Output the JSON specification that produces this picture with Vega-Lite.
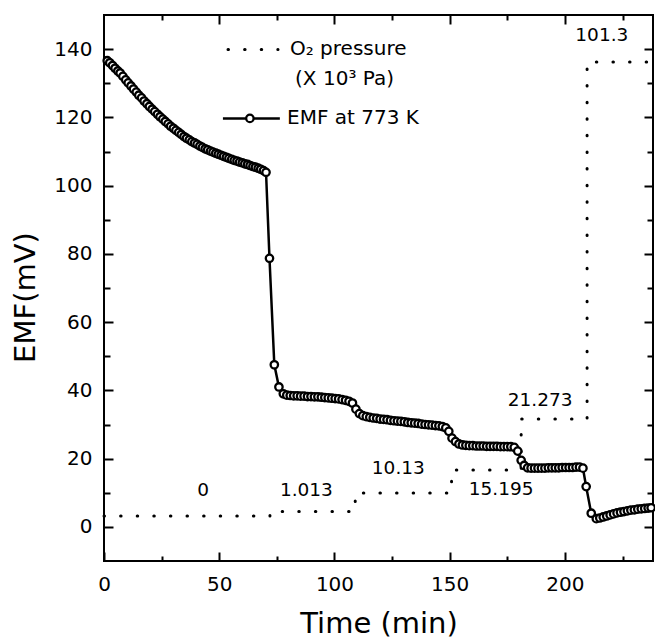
{
  "$schema": "https://vega.github.io/schema/vega-lite/v6.json",
  "width": 549,
  "height": 546,
  "autosize": "none",
  "padding": {"left": 104, "top": 15, "right": 2, "bottom": 80},
  "background": "white",
  "config": {
    "view": {"stroke": "black", "strokeWidth": 2},
    "axis": {
      "domain": false, "tickColor": "black", "tickWidth": 2,
      "labelFont": "DejaVu Sans", "labelFontSize": 20, "labelColor": "black",
      "titleFont": "DejaVu Sans", "titleFontSize": 29, "titleFontWeight": "normal", "titleColor": "black",
      "grid": false, "labelFlush": false, "labelOverlap": false
    }
  },
  "datasets": {
    "o2": [
      {"t": 0, "v": 3.2}, {"t": 72, "v": 3.2}, {"t": 72, "v": 4.5}, {"t": 109, "v": 4.5},
      {"t": 109, "v": 9.9}, {"t": 150.8, "v": 9.9}, {"t": 150.8, "v": 16.7}, {"t": 181, "v": 16.7},
      {"t": 181, "v": 31.6}, {"t": 209.6, "v": 31.6}, {"t": 209.6, "v": 136.2}, {"t": 238.2, "v": 136.2}
    ],
    "emf": [
      {"t": 1.4, "v": 136.6}, {"t": 2.5, "v": 136.0}, {"t": 3.7, "v": 135.2}, {"t": 4.8, "v": 134.4}, {"t": 6.0, "v": 133.6},
      {"t": 7.0, "v": 133.0}, {"t": 8.2, "v": 132.0}, {"t": 9.4, "v": 131.0}, {"t": 10.5, "v": 130.1}, {"t": 11.7, "v": 129.2},
      {"t": 12.8, "v": 128.3}, {"t": 14.0, "v": 127.4}, {"t": 15.1, "v": 126.5}, {"t": 16.3, "v": 125.7}, {"t": 17.4, "v": 124.8},
      {"t": 18.6, "v": 124.0}, {"t": 19.7, "v": 123.2}, {"t": 20.9, "v": 122.4}, {"t": 22.0, "v": 121.7}, {"t": 23.2, "v": 120.9},
      {"t": 24.3, "v": 120.2}, {"t": 25.5, "v": 119.5}, {"t": 26.6, "v": 118.8}, {"t": 27.8, "v": 118.1}, {"t": 28.9, "v": 117.4},
      {"t": 30.1, "v": 116.8}, {"t": 31.2, "v": 116.2}, {"t": 32.4, "v": 115.6}, {"t": 33.5, "v": 115.0}, {"t": 34.7, "v": 114.4},
      {"t": 35.8, "v": 113.9}, {"t": 37.0, "v": 113.4}, {"t": 38.1, "v": 112.9}, {"t": 39.3, "v": 112.5}, {"t": 40.4, "v": 112.1},
      {"t": 41.6, "v": 111.6}, {"t": 42.7, "v": 111.2}, {"t": 43.9, "v": 110.8}, {"t": 45.0, "v": 110.5}, {"t": 46.2, "v": 110.1},
      {"t": 47.3, "v": 109.8}, {"t": 48.5, "v": 109.5}, {"t": 49.6, "v": 109.2}, {"t": 50.8, "v": 108.9}, {"t": 51.9, "v": 108.6},
      {"t": 53.1, "v": 108.3}, {"t": 54.2, "v": 108.0}, {"t": 55.4, "v": 107.7}, {"t": 56.5, "v": 107.4}, {"t": 57.7, "v": 107.2},
      {"t": 58.8, "v": 106.9}, {"t": 60.0, "v": 106.7}, {"t": 61.1, "v": 106.4}, {"t": 62.3, "v": 106.2}, {"t": 63.4, "v": 105.9},
      {"t": 64.6, "v": 105.6}, {"t": 65.7, "v": 105.4}, {"t": 66.9, "v": 105.1}, {"t": 68.0, "v": 104.8}, {"t": 69.2, "v": 104.4},
      {"t": 70.3, "v": 103.9}, {"t": 71.8, "v": 78.7}, {"t": 73.9, "v": 47.5}, {"t": 75.9, "v": 41.0}, {"t": 77.8, "v": 39.0},
      {"t": 79.3, "v": 38.6}, {"t": 80.8, "v": 38.5}, {"t": 82.3, "v": 38.4}, {"t": 83.8, "v": 38.4}, {"t": 85.3, "v": 38.3},
      {"t": 86.8, "v": 38.3}, {"t": 88.3, "v": 38.2}, {"t": 89.8, "v": 38.2}, {"t": 91.3, "v": 38.1}, {"t": 92.8, "v": 38.1},
      {"t": 94.3, "v": 38.0}, {"t": 95.8, "v": 37.9}, {"t": 97.3, "v": 37.8}, {"t": 98.8, "v": 37.7}, {"t": 100.3, "v": 37.6},
      {"t": 101.8, "v": 37.5}, {"t": 103.3, "v": 37.3}, {"t": 104.8, "v": 37.1}, {"t": 106.3, "v": 36.8}, {"t": 107.8, "v": 36.3},
      {"t": 109.3, "v": 34.5}, {"t": 110.8, "v": 33.2}, {"t": 112.3, "v": 32.6}, {"t": 113.8, "v": 32.3}, {"t": 115.3, "v": 32.1},
      {"t": 116.8, "v": 31.9}, {"t": 118.3, "v": 31.8}, {"t": 119.8, "v": 31.6}, {"t": 121.3, "v": 31.5}, {"t": 122.8, "v": 31.4},
      {"t": 124.3, "v": 31.2}, {"t": 125.8, "v": 31.1}, {"t": 127.3, "v": 31.0}, {"t": 128.8, "v": 30.9}, {"t": 130.3, "v": 30.8},
      {"t": 131.8, "v": 30.6}, {"t": 133.3, "v": 30.5}, {"t": 134.8, "v": 30.4}, {"t": 136.3, "v": 30.3}, {"t": 137.8, "v": 30.1},
      {"t": 139.3, "v": 30.0}, {"t": 140.8, "v": 29.9}, {"t": 142.3, "v": 29.8}, {"t": 143.8, "v": 29.7}, {"t": 145.3, "v": 29.6},
      {"t": 146.8, "v": 29.4}, {"t": 148.3, "v": 29.0}, {"t": 149.6, "v": 28.0}, {"t": 151.0, "v": 26.0}, {"t": 152.5, "v": 25.0},
      {"t": 154.0, "v": 24.3}, {"t": 155.5, "v": 24.0}, {"t": 157.0, "v": 23.9}, {"t": 158.5, "v": 23.8}, {"t": 160.0, "v": 23.8},
      {"t": 161.5, "v": 23.7}, {"t": 163.0, "v": 23.7}, {"t": 164.5, "v": 23.7}, {"t": 166.0, "v": 23.6}, {"t": 167.5, "v": 23.6},
      {"t": 169.0, "v": 23.6}, {"t": 170.5, "v": 23.6}, {"t": 172.0, "v": 23.5}, {"t": 173.5, "v": 23.5}, {"t": 175.0, "v": 23.5},
      {"t": 176.5, "v": 23.5}, {"t": 178.0, "v": 23.3}, {"t": 179.5, "v": 22.2}, {"t": 181.0, "v": 19.5}, {"t": 182.3, "v": 18.0},
      {"t": 183.8, "v": 17.3}, {"t": 185.3, "v": 17.2}, {"t": 186.8, "v": 17.2}, {"t": 188.3, "v": 17.2}, {"t": 189.8, "v": 17.2},
      {"t": 191.3, "v": 17.2}, {"t": 192.8, "v": 17.3}, {"t": 194.3, "v": 17.3}, {"t": 195.8, "v": 17.3}, {"t": 197.3, "v": 17.3},
      {"t": 198.8, "v": 17.4}, {"t": 200.3, "v": 17.4}, {"t": 201.8, "v": 17.4}, {"t": 203.3, "v": 17.4}, {"t": 204.8, "v": 17.5},
      {"t": 206.3, "v": 17.5}, {"t": 207.8, "v": 17.2}, {"t": 209.2, "v": 11.8}, {"t": 211.4, "v": 4.0}, {"t": 213.6, "v": 2.4},
      {"t": 215.1, "v": 2.6}, {"t": 216.6, "v": 2.9}, {"t": 218.1, "v": 3.2}, {"t": 219.6, "v": 3.5}, {"t": 221.1, "v": 3.8},
      {"t": 222.6, "v": 4.1}, {"t": 224.1, "v": 4.3}, {"t": 225.6, "v": 4.5}, {"t": 227.1, "v": 4.7}, {"t": 228.6, "v": 4.9},
      {"t": 230.1, "v": 5.0}, {"t": 231.6, "v": 5.2}, {"t": 233.1, "v": 5.3}, {"t": 234.6, "v": 5.4}, {"t": 236.1, "v": 5.5},
      {"t": 237.4, "v": 5.6}
    ],
    "ann": [
      {"t": 43, "v": 10.9, "label": "0"},
      {"t": 87.8, "v": 10.9, "label": "1.013"},
      {"t": 127.7, "v": 17.3, "label": "10.13"},
      {"t": 172.3, "v": 11.2, "label": "15.195"},
      {"t": 189.2, "v": 37.3, "label": "21.273"},
      {"t": 216, "v": 144, "label": "101.3"}
    ],
    "legDot": [{"t": 53.8, "v": 139.9}, {"t": 75.5, "v": 139.9}],
    "legLine": [{"t": 51.6, "v": 119.7}, {"t": 76.3, "v": 119.7}],
    "legPt": [{"t": 63.3, "v": 119.7}],
    "legText": [
      {"t": 80.7, "v": 139.9, "label": "O₂ pressure"},
      {"t": 82.9, "v": 131.2, "label": "(X 10³ Pa)"},
      {"t": 79.4, "v": 119.7, "label": "EMF at 773 K"}
    ]
  },
  "layer": [
    {
      "data": {"name": "o2"},
      "mark": {"type": "line", "color": "black", "strokeWidth": 3, "strokeDash": [0.5, 16.1], "strokeCap": "round"},
      "encoding": {
        "x": {"field": "t", "type": "quantitative", "scale": {"domain": [0, 238.2], "nice": false, "zero": false},
          "axis": {"orient": "bottom", "offset": -9, "values": [0, 50, 100, 150, 200], "tickSize": 9,
            "labelPadding": 13, "title": "Time (min)", "titleY": 80, "titleBaseline": "alphabetic"}},
        "y": {"field": "v", "type": "quantitative", "scale": {"domain": [-10, 150], "nice": false, "zero": false},
          "axis": {"orient": "left", "offset": -9, "values": [0, 20, 40, 60, 80, 100, 120, 140], "tickSize": 9,
            "labelPadding": 12, "title": "EMF(mV)", "titleX": -79, "titleY": 282, "titleBaseline": "alphabetic"}},
        "order": {"field": "t", "type": "quantitative"}
      }
    },
    {
      "data": {"name": "emf"},
      "mark": {"type": "line", "color": "black", "strokeWidth": 2.5},
      "encoding": {
        "x": {"field": "t", "type": "quantitative", "scale": {"domain": [0, 238.2], "nice": false, "zero": false},
          "axis": {"orient": "bottom", "offset": -5, "values": [25, 75, 125, 175, 225], "tickSize": 5, "labels": false, "title": null}},
        "y": {"field": "v", "type": "quantitative", "scale": {"domain": [-10, 150], "nice": false, "zero": false},
          "axis": {"orient": "left", "offset": -6, "values": [10, 30, 50, 70, 90, 110, 130], "tickSize": 6, "labels": false, "title": null}}
      }
    },
    {
      "data": {"name": "emf"},
      "mark": {"type": "point", "shape": "circle", "filled": false, "fill": "white", "fillOpacity": 1, "stroke": "black", "strokeWidth": 2.3, "size": 55, "opacity": 1},
      "encoding": {
        "x": {"field": "t", "type": "quantitative", "scale": {"domain": [0, 238.2], "nice": false, "zero": false},
          "axis": {"orient": "top", "offset": -9, "values": [50, 100, 150, 200], "tickSize": 9, "labels": false, "title": null}},
        "y": {"field": "v", "type": "quantitative", "scale": {"domain": [-10, 150], "nice": false, "zero": false},
          "axis": {"orient": "right", "offset": -9, "values": [0, 20, 40, 60, 80, 100, 120, 140], "tickSize": 9, "labels": false, "title": null}}
      }
    },
    {
      "data": {"name": "ann"},
      "mark": {"type": "text", "font": "DejaVu Sans", "fontSize": 18.5, "color": "black", "align": "center", "baseline": "middle"},
      "encoding": {
        "x": {"field": "t", "type": "quantitative", "scale": {"domain": [0, 238.2], "nice": false, "zero": false},
          "axis": {"orient": "top", "offset": -5, "values": [25, 75, 125, 175, 225], "tickSize": 5, "labels": false, "title": null}},
        "y": {"field": "v", "type": "quantitative", "scale": {"domain": [-10, 150], "nice": false, "zero": false},
          "axis": {"orient": "right", "offset": -6, "values": [10, 30, 50, 70, 90, 110, 130], "tickSize": 6, "labels": false, "title": null}},
        "text": {"field": "label"}
      }
    },
    {
      "data": {"name": "legDot"},
      "mark": {"type": "line", "color": "black", "strokeWidth": 3, "strokeDash": [0.5, 16.1], "strokeCap": "round"},
      "encoding": {
        "x": {"field": "t", "type": "quantitative", "scale": {"domain": [0, 238.2], "nice": false, "zero": false}, "axis": null},
        "y": {"field": "v", "type": "quantitative", "scale": {"domain": [-10, 150], "nice": false, "zero": false}, "axis": null}
      }
    },
    {
      "data": {"name": "legLine"},
      "mark": {"type": "line", "color": "black", "strokeWidth": 2.5},
      "encoding": {
        "x": {"field": "t", "type": "quantitative", "scale": {"domain": [0, 238.2], "nice": false, "zero": false}, "axis": null},
        "y": {"field": "v", "type": "quantitative", "scale": {"domain": [-10, 150], "nice": false, "zero": false}, "axis": null}
      }
    },
    {
      "data": {"name": "legPt"},
      "mark": {"type": "point", "shape": "circle", "filled": false, "fill": "white", "fillOpacity": 1, "stroke": "black", "strokeWidth": 2.3, "size": 55, "opacity": 1},
      "encoding": {
        "x": {"field": "t", "type": "quantitative", "scale": {"domain": [0, 238.2], "nice": false, "zero": false}, "axis": null},
        "y": {"field": "v", "type": "quantitative", "scale": {"domain": [-10, 150], "nice": false, "zero": false}, "axis": null}
      }
    },
    {
      "data": {"name": "legText"},
      "mark": {"type": "text", "font": "DejaVu Sans", "fontSize": 20, "color": "black", "align": "left", "baseline": "middle"},
      "encoding": {
        "x": {"field": "t", "type": "quantitative", "scale": {"domain": [0, 238.2], "nice": false, "zero": false}, "axis": null},
        "y": {"field": "v", "type": "quantitative", "scale": {"domain": [-10, 150], "nice": false, "zero": false}, "axis": null},
        "text": {"field": "label"}
      }
    }
  ],
  "resolve": {"axis": {"x": "independent", "y": "independent"}}
}
